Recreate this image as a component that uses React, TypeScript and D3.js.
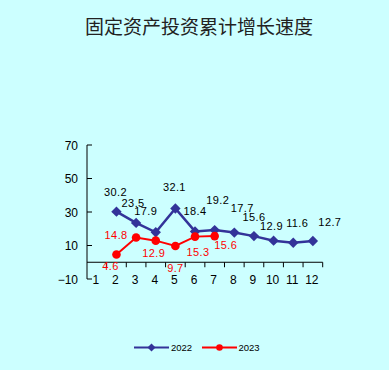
import React from 'react';
import * as d3 from 'd3';

const months = ['1', '2', '3', '4', '5', '6', '7', '8', '9', '10', '11', '12'];
const series2022 = [null, 30.2, 23.5, 17.9, 32.1, 18.4, 19.2, 17.7, 15.6, 12.9, 11.6, 12.7];
const series2023 = [null, 4.6, 14.8, 12.9, 9.7, 15.3, 15.6, null, null, null, null, null];
const yTicks = [70, 50, 30, 10, -10];
const title = '固定资产投资累计增长速度';

// hand placement of the value labels, [dx, dy] from the point
const nudge2022 = [null, [-1, -16], [-3, -16], [-10, -17], [-1, -17], [0, -16], [3, -26], [8, -21], [0, -15], [-2, -11], [4, -16], [17, -15]];
const nudge2023 = [null, [-6, 15], [-20, 2], [-2, 16], [0, 26], [3, 19], [11, 13]];

const W = 389;
const H = 370;
const bg = '#ccffff';
const blue = '#333399';
const red = '#ff0000';
const numFont = '"Liberation Sans", Arial, sans-serif';

const x = d3.scaleBand().domain(months).range([87, 322.7]).paddingInner(0).paddingOuter(0);
const y = d3.scaleLinear().domain([-10, 70]).range([279, 145]);
const cx = (m) => x(m) + x.bandwidth() / 2;

const diamond = 'M0,-5.2L5.2,0L0,5.2L-5.2,0Z';

function pts(vals) {
    return months
        .map((m, i) => ({ m, v: vals[i], i }))
        .filter((d) => d.v !== null && d.v !== undefined);
}

export default function App() {
    const p22 = pts(series2022);
    const p23 = pts(series2023);
    const line = d3
        .line()
        .x((d) => cx(d.m))
        .y((d) => y(d.v));

    const y0 = y(0);

    return (
        <svg width={W} height={H} style={{ position: 'absolute', left: 0, top: 0 }}>
            <rect x={0} y={0} width={W} height={H} fill={bg} />
            <text
                x={199}
                y={34}
                textAnchor="middle"
                fontFamily='"Noto Sans CJK SC", sans-serif'
                fontSize={19}
                fill="#222"
            >
                {title}
            </text>

            {/* y axis */}
            <line x1={87} x2={87} y1={y(70)} y2={y(-10)} stroke="#000" strokeWidth={1} />
            {yTicks.map((t) => (
                <g key={t}>
                    <line x1={87} x2={92} y1={y(t)} y2={y(t)} stroke="#000" />
                    <text
                        x={78}
                        y={y(t) + 4.5}
                        textAnchor="end"
                        fontFamily={numFont}
                        fontSize={12}
                        fill="#000"
                    >
                        {t < 0 ? '\u2212' + Math.abs(t) : t}
                    </text>
                </g>
            ))}

            {/* x axis at zero */}
            <line x1={87} x2={322.7} y1={y0} y2={y0} stroke="#000" />
            {months.map((m) => (
                <line key={'t' + m} x1={x(m) + x.bandwidth()} x2={x(m) + x.bandwidth()} y1={y0} y2={y0 + 5} stroke="#000" />
            ))}
            {months.map((m) => (
                <text
                    key={'l' + m}
                    x={cx(m) - 1}
                    y={284}
                    textAnchor="middle"
                    fontFamily={numFont}
                    fontSize={12}
                    fill="#000"
                >
                    {m}
                </text>
            ))}

            {/* 2022 */}
            <path d={line(p22)} fill="none" stroke={blue} strokeWidth={2.5} />
            {p22.map((d) => (
                <path key={'d' + d.m} d={diamond} transform={`translate(${cx(d.m)},${y(d.v)})`} fill={blue} />
            ))}
            {p22.map((d) => (
                <text
                    key={'v' + d.m}
                    x={cx(d.m) + nudge2022[d.i][0]}
                    y={y(d.v) + nudge2022[d.i][1]}
                    textAnchor="middle"
                    fontFamily={numFont}
                    fontSize={11}
                    letterSpacing={0.4}
                    fill="#000"
                >
                    {d.v.toFixed(1)}
                </text>
            ))}

            {/* 2023 */}
            <path d={line(p23)} fill="none" stroke={red} strokeWidth={2} />
            {p23.map((d) => (
                <circle key={'c' + d.m} cx={cx(d.m)} cy={y(d.v)} r={4.3} fill={red} />
            ))}
            {p23.map((d) => (
                <text
                    key={'r' + d.m}
                    x={cx(d.m) + nudge2023[d.i][0]}
                    y={y(d.v) + nudge2023[d.i][1]}
                    textAnchor="middle"
                    fontFamily={numFont}
                    fontSize={11}
                    letterSpacing={0.4}
                    fill={red}
                >
                    {d.v.toFixed(1)}
                </text>
            ))}

            {/* legend */}
            <g transform="translate(0,347.5)">
                <line x1={134} x2={169} y1={0} y2={0} stroke={blue} strokeWidth={2} />
                <path d="M0,-4L4,0L0,4L-4,0Z" transform="translate(151.5,0)" fill={blue} />
                <text x={171} y={3.5} fontFamily={numFont} fontSize={9.5} fill="#000">
                    2022
                </text>
                <line x1={202} x2={237} y1={0} y2={0} stroke={red} strokeWidth={2} />
                <circle cx={219.5} cy={0} r={3.3} fill={red} />
                <text x={238.5} y={3.5} fontFamily={numFont} fontSize={9.5} fill="#000">
                    2023
                </text>
            </g>
        </svg>
    );
}
